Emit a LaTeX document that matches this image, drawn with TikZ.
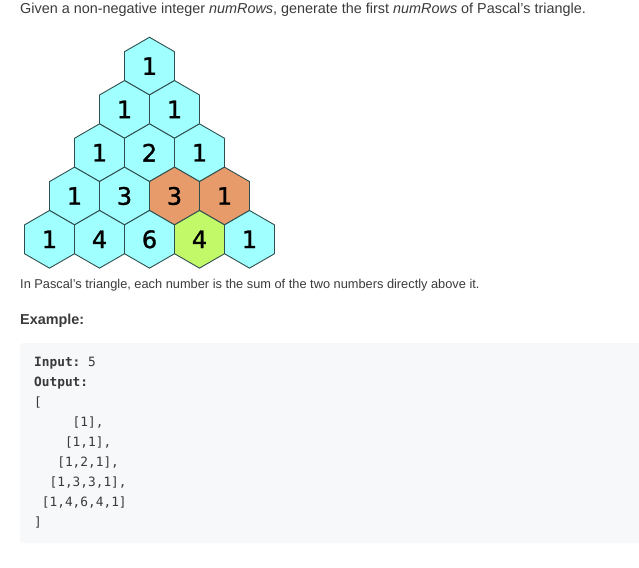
\documentclass[tikz,border=0pt]{standalone}
\usepackage{fontspec}
\setmainfont{Liberation Sans}
\setmonofont{DejaVu Sans Mono}
\newfontfamily\digitfont[FakeBold=1.2]{DejaVu Sans}
\usetikzlibrary{shapes.geometric,positioning}

\definecolor{hexcyan}{HTML}{A0FFFF}
\definecolor{hexorange}{HTML}{E89B6A}
\definecolor{hexgreen}{HTML}{C1F968}
\definecolor{hexline}{HTML}{2F4F4F}
\definecolor{bodytext}{HTML}{3A3A3A}
\definecolor{codebg}{HTML}{F7F8FA}

\begin{document}
\begin{tikzpicture}[x=1pt, y=-1pt,
        hex/.style = {draw=hexline, line width=0.9pt, fill=hexcyan, regular polygon, regular polygon sides=6,
                      shape border rotate=30, minimum size=57.7pt, inner sep=0pt,
                      font=\digitfont\fontsize{24}{24}\selectfont},
        txt/.style = {anchor=base west, inner sep=0pt, text=bodytext},
        code/.style = {anchor=base west, inner sep=0pt, text=bodytext, font=\ttfamily\fontsize{12.8}{14}\selectfont},
        on grid, node distance=43.3pt and 25pt]
                \useasboundingbox (0,0) rectangle (639,567);

                \node[txt, font=\fontsize{14.4}{16}\selectfont](title) at (20,14)
                    {Given a non-negative integer \textit{numRows}, generate the first \textit{numRows} of Pascal's triangle.};

                \node[hex](1) at (149.5,66.1){1};
                \node[hex](2)[below left=of 1]{1};
                \node[hex](3)[right=50pt of 2]{1};
                \node[hex](4)[below left=of 2]{1};
                \node[hex](5)[right=50pt of 4]{2};
                \node[hex](6)[right=50pt of 5]{1};
                \node[hex](7)[below left=of 4]{1};
                \node[hex](8)[right=50pt of 7]{3};
                \node[hex, fill=hexorange](9)[right=50pt of 8]{3};
                \node[hex, fill=hexorange](10)[right=50pt of 9]{1};
                \node[hex](11)[below left=of 7]{1};
                \node[hex](12)[right=50pt of 11]{4};
                \node[hex](13)[right=50pt of 12]{6};
                \node[hex, fill=hexgreen](14)[right=50pt of 13]{4};
                \node[hex](15)[right=50pt of 14]{1};

                \node[txt, font=\fontsize{12.8}{14}\selectfont](note) at (20,288.3)
                    {In Pascal's triangle, each number is the sum of the two numbers directly above it.};
                \node[txt, font=\bfseries\fontsize{14.4}{16}\selectfont](example) at (20,324.3){Example:};

                \fill[codebg, rounded corners=3pt] (20,343) rectangle (642,543);
                \node[code](input) at (34,366.5){\textbf{Input:} 5};
                \node[code](output) at (34,386.5){\textbf{Output:}};
                \node[code](open) at (34,406.5){[};
                \node[code](row1) at (72.5,426.5){[1],};
                \node[code](row2) at (64.8,446.5){[1,1],};
                \node[code](row3) at (57.1,466.5){[1,2,1],};
                \node[code](row4) at (49.4,486.5){[1,3,3,1],};
                \node[code](row5) at (41.7,506.5){[1,4,6,4,1]};
                \node[code](close) at (34,526.5){]};
            \end{tikzpicture}
\end{document}
